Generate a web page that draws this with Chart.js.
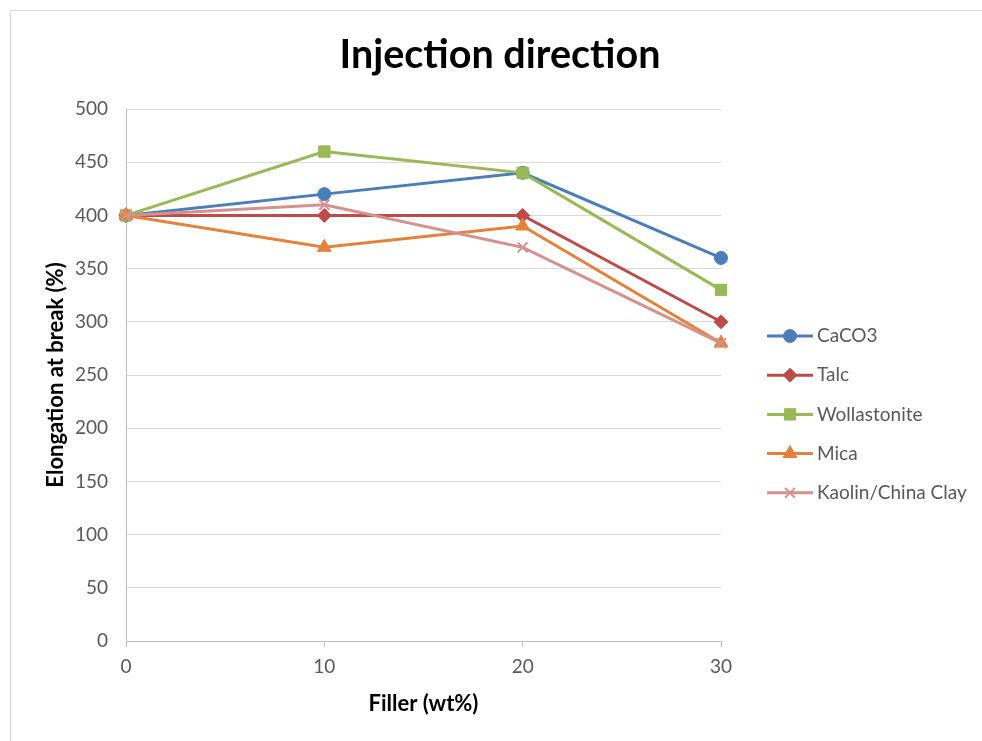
<!DOCTYPE html>
<html>
<head>
<meta charset="utf-8">
<title>Injection direction</title>
<script src="https://cdn.jsdelivr.net/npm/chart.js@4.4.1/dist/chart.umd.min.js"></script>
<style>
  body { margin: 0; background: #fff; overflow: hidden; }
  #wrap { position: relative; width: 982px; height: 741px; }
  #frame { position: absolute; left: 10px; top: 10px; width: 990px; height: 760px; border: 1px solid #d9d9d9; }
  canvas { position: absolute; left: 0; top: 0; }
</style>
</head>
<body>
<div id="wrap">
  <div id="frame"></div>
  <canvas id="myChart" width="982" height="741"></canvas>
</div>
<script>
// data
const fillerPct = [0, 10, 20, 30];
const caco3 = [400, 420, 440, 360];
const talc = [400, 400, 400, 300];
const wollastonite = [400, 460, 440, 330];
const mica = [400, 370, 390, 280];
const kaolin = [400, 410, 370, 280];

const seriesNames = ["CaCO3", "Talc", "Wollastonite", "Mica", "Kaolin/China Clay"];
const seriesColors = ["#4A7EBB", "#BE4B48", "#98B954", "#E4823A", "#D6918F"];
const seriesMarkers = ["circle", "rectRot", "rect", "triangle", "crossRot"];
const markerSizes = [6.5, 7, 8, 8, 7];

const allSeries = [caco3, talc, wollastonite, mica, kaolin];

const tickColor = "#595959";
const fontName = "Lato, 'Open Sans', sans-serif";

const datasets = allSeries.map((vals, i) => ({
  label: seriesNames[i],
  data: vals.map((v, j) => ({ x: fillerPct[j], y: v })),
  borderColor: seriesColors[i],
  backgroundColor: seriesColors[i],
  pointBackgroundColor: seriesColors[i],
  pointBorderColor: seriesColors[i],
  pointBorderWidth: seriesMarkers[i] === "crossRot" ? 2 : 1,
  pointStyle: seriesMarkers[i],
  pointRadius: markerSizes[i],
  borderWidth: 3,
  tension: 0,
  clip: false,
  order: allSeries.length - i
}));

// legend drawn at the right, like the Excel one
const sideLegend = {
  id: "sideLegend",
  afterDraw(chart) {
    const ctx = chart.ctx;
    ctx.save();
    chart.data.datasets.forEach((ds, i) => {
      const y = 336 + i * 39.2;
      ctx.strokeStyle = ds.borderColor;
      ctx.lineWidth = 3;
      ctx.beginPath();
      ctx.moveTo(767, y);
      ctx.lineTo(813, y);
      ctx.stroke();

      ctx.fillStyle = ds.pointBackgroundColor;
      ctx.strokeStyle = ds.pointBorderColor;
      ctx.lineWidth = ds.pointBorderWidth;
      Chart.helpers.drawPoint(ctx, {
        pointStyle: ds.pointStyle,
        radius: ds.pointRadius,
        borderWidth: ds.pointBorderWidth,
        rotation: 0
      }, 790, y);

      ctx.fillStyle = tickColor;
      ctx.font = "19px " + fontName;
      ctx.textBaseline = "middle";
      ctx.textAlign = "left";
      ctx.fillText(ds.label, 817, y);
    });
    ctx.restore();
  }
};

new Chart(document.getElementById("myChart"), {
  type: "line",
  data: { datasets: datasets },
  options: {
    responsive: false,
    animation: false,
    layout: { padding: { left: 18, right: 0, top: 0, bottom: 0 } },
    plugins: {
      legend: { display: false },
      tooltip: { enabled: false },
      title: {
        display: true,
        text: "Injection direction",
        color: "#000",
        font: { family: fontName, size: 39.5, weight: "bold" },
        padding: { top: 32, bottom: 29.6 }
      }
    },
    scales: {
      x: {
        type: "linear",
        min: 0,
        max: 30,
        afterFit: (s) => { s.height = 100; },
        ticks: {
          stepSize: 10,
          color: tickColor,
          padding: 8,
          font: { family: fontName, size: 19 }
        },
        grid: { drawOnChartArea: false, tickLength: 6, color: "#bfbfbf" },
        border: { color: "#bfbfbf", width: 1 },
        title: {
          display: true,
          text: "Filler (wt%)",
          color: "#000",
          font: { family: fontName, size: 22, weight: "bold" },
          padding: { top: 0, bottom: 24 }
        }
      },
      y: {
        min: 0,
        max: 500,
        afterFit: (s) => { s.width = 108; },
        ticks: {
          stepSize: 50,
          color: tickColor,
          padding: 18,
          font: { family: fontName, size: 19 }
        },
        grid: { color: "#d9d9d9", drawTicks: false },
        border: { color: "#bfbfbf", width: 1 },
        title: {
          display: true,
          text: "Elongation at break (%)",
          color: "#000",
          font: { family: fontName, size: 22, weight: "bold" },
          padding: { top: 25, bottom: 0 }
        }
      },
      // empty space on the right for the legend
      side: {
        type: "linear",
        position: "right",
        afterFit: (s) => { s.width = 261; },
        ticks: { display: false },
        grid: { display: false },
        border: { display: false }
      }
    }
  },
  plugins: [sideLegend]
});
</script>
</body>
</html>
